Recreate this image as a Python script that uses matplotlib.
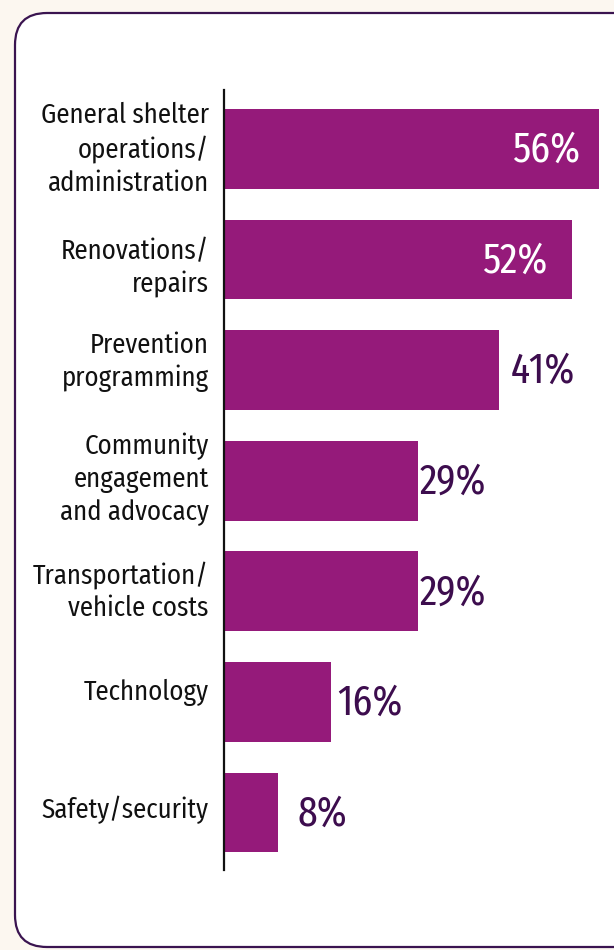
import matplotlib
matplotlib.use('Agg')
import matplotlib.pyplot as plt
from matplotlib.patches import FancyBboxPatch
from matplotlib.transforms import IdentityTransform

categories = ['General shelter\noperations/\nadministration',
              'Renovations/\nrepairs',
              'Prevention\nprogramming',
              'Community\nengagement\nand advocacy',
              'Transportation/\nvehicle costs',
              'Technology',
              'Safety/security']
values = [56, 52, 41, 29, 29, 16, 8]
value_labels = ['56%', '52%', '41%', '29%', '29%', '16%', '8%']
label_inside = [True, True, False, False, False, False, False]
label_pad = [-14, -18, 9, 1, 1, 4, 14]      # points, value labels
cat_shift = [0, -6, 6, 1, 0, 7, 2]           # points, category labels (up = +)

bar_color = '#951a7a'
dark = '#3d0d4e'
bg = '#fcf7f0'
font = 'Fira Sans Condensed'
font_val = 'Fira Sans Extra Condensed'

fig = plt.figure(figsize=(6.14, 9.5), dpi=100, facecolor=bg)

# white card with rounded corners (pixel coords)
card = FancyBboxPatch((15, 3), 640, 934, boxstyle='round,pad=0,rounding_size=32',
                      transform=IdentityTransform(), facecolor='white',
                      edgecolor='#3a1450', linewidth=1.6, zorder=0)
fig.add_artist(card)

ax = fig.add_axes([224 / 614, 80 / 950, 390 / 614, 780 / 950])
ax.set_facecolor('none')
y = list(range(len(values)))
ax.barh(y, values, height=0.72, color=bar_color, zorder=2)
ax.set_xlim(0, 58.2)
ax.set_ylim(6.52, -0.533)

for s in ['top', 'right', 'bottom']:
    ax.spines[s].set_visible(False)
ax.spines['left'].set_linewidth(1.6)
ax.spines['left'].set_color('#111111')
ax.spines['left'].set_zorder(3)
ax.set_xticks([])
ax.set_yticks([])

for i, cat in enumerate(categories):
    ax.annotate(cat, (0, i), xytext=(-11, cat_shift[i]), textcoords='offset points',
                ha='right', va='center', fontsize=19.3, family=font, weight='normal',
                color='#111111', linespacing=1.3, annotation_clip=False)

for i, (v, lab) in enumerate(zip(values, value_labels)):
    if label_inside[i]:
        ax.annotate(lab, (v, i), xytext=(label_pad[i], -1), textcoords='offset points',
                    ha='right', va='center', fontsize=31, family=font_val, color='white')
    else:
        ax.annotate(lab, (v, i), xytext=(label_pad[i], -1), textcoords='offset points',
                    ha='left', va='center', fontsize=31, family=font_val, color=dark)

fig.savefig('out.png', dpi=100, facecolor=bg)
